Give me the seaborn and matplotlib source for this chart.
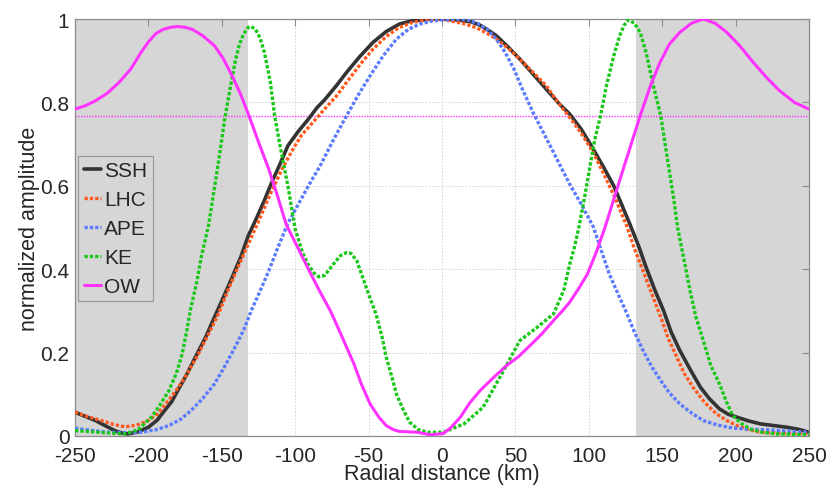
import numpy as np
import pandas as pd
import matplotlib
matplotlib.use("Agg")
import matplotlib.pyplot as plt
import seaborn as sns

# ---------------- data ----------------
ssh_x = [-250, -243, -236, -229, -223, -218, -214, -207, -200, -194, -189, -184, -180, -174, -168, -161,
         -155, -149, -143, -137, -132, -126, -121, -116, -110, -105, -98, -91, -85, -80, -72, -65, -56,
         -47, -38, -29, -20, -10, 0, 12, 20, 26, 32, 37, 45, 53, 62, 71, 80, 87, 95, 103, 110, 117, 123,
         128, 134, 139, 145, 151, 156, 162, 169, 176, 182, 189, 195, 201, 209, 217, 226, 235, 243, 250]
ssh_y = [0.057, 0.047, 0.037, 0.024, 0.013, 0.007, 0.005, 0.010, 0.021, 0.038, 0.061, 0.083, 0.109,
         0.147, 0.189, 0.237, 0.285, 0.332, 0.380, 0.430, 0.480, 0.525, 0.565, 0.608, 0.655, 0.696,
         0.730, 0.760, 0.788, 0.806, 0.840, 0.872, 0.910, 0.944, 0.970, 0.988, 0.996, 0.999, 1.000,
         0.997, 0.993, 0.985, 0.972, 0.960, 0.933, 0.904, 0.868, 0.832, 0.796, 0.772, 0.735, 0.688,
         0.645, 0.600, 0.550, 0.508, 0.455, 0.405, 0.350, 0.300, 0.250, 0.205, 0.160, 0.117, 0.090,
         0.065, 0.052, 0.045, 0.036, 0.029, 0.025, 0.021, 0.016, 0.009]

lhc_x = [-250, -241, -232, -224, -216, -208, -200, -194, -189, -182, -175, -167, -159, -152, -146, -139,
         -132, -125, -117, -109, -102, -96, -88, -80, -72, -65, -56, -47, -38, -29, -20, -10, 0, 8, 16,
         24, 31, 37, 45, 53, 62, 71, 79, 87, 95, 103, 110, 118, 126, 131, 137, 143, 149, 154, 160, 165,
         171, 179, 187, 194, 201, 208, 217, 233, 250]
lhc_y = [0.057, 0.046, 0.037, 0.028, 0.022, 0.026, 0.037, 0.052, 0.073, 0.105, 0.141, 0.190, 0.245,
         0.295, 0.348, 0.405, 0.460, 0.515, 0.580, 0.640, 0.685, 0.720, 0.752, 0.784, 0.815, 0.848,
         0.890, 0.928, 0.958, 0.980, 0.992, 0.998, 1.000, 0.994, 0.988, 0.978, 0.965, 0.952, 0.930,
         0.904, 0.872, 0.840, 0.800, 0.764, 0.725, 0.680, 0.630, 0.570, 0.502, 0.450, 0.396, 0.340,
         0.285, 0.235, 0.189, 0.150, 0.117, 0.080, 0.053, 0.037, 0.025, 0.016, 0.009, 0.007, 0.006]

ape_x = [-250, -238, -227, -216, -205, -195, -186, -178, -171, -163, -155, -148, -141, -135, -130, -124,
         -118, -112, -105, -98, -91, -83, -74, -65, -57, -49, -40, -31, -23, -15, -7, 1, 10, 17, 24, 31,
         37, 43, 49, 55, 62, 69, 76, 81, 87, 95, 103, 108, 114, 120, 126, 131, 137, 143, 149, 155, 162,
         170, 178, 188, 198, 210, 221, 235, 250]
ape_y = [0.019, 0.013, 0.009, 0.008, 0.009, 0.015, 0.025, 0.040, 0.061, 0.090, 0.125, 0.167, 0.213,
         0.255, 0.300, 0.347, 0.396, 0.450, 0.510, 0.555, 0.600, 0.648, 0.710, 0.768, 0.818, 0.864,
         0.912, 0.952, 0.975, 0.988, 0.995, 0.998, 1.000, 0.998, 0.990, 0.975, 0.952, 0.920, 0.880,
         0.830, 0.776, 0.728, 0.680, 0.645, 0.604, 0.555, 0.502, 0.450, 0.388, 0.340, 0.293, 0.250,
         0.205, 0.165, 0.133, 0.103, 0.077, 0.055, 0.037, 0.026, 0.019, 0.016, 0.015, 0.012, 0.009]

ke_x = [-250, -230, -216, -207, -198, -192, -186, -181, -177, -174, -171, -167, -164, -159, -153, -148,
        -144, -141, -138, -135, -132, -130, -127, -124, -121, -117, -114, -110, -105, -100, -95, -91,
        -87, -84, -80, -74, -69, -65, -62, -58, -54, -50, -45, -41, -38, -34, -31, -26, -22, -16, -10,
        1, 15, 28, 42, 53, 65, 76, 83, 87, 90, 93, 97, 101, 104, 108, 112, 117, 121, 124, 127, 131,
        135, 139, 144, 149, 152, 155, 158, 160.5, 165, 169, 173, 178, 183, 189, 194, 198, 204, 210,
        218, 228, 250]
ke_y = [0.013, 0.008, 0.005, 0.015, 0.045, 0.075, 0.109, 0.150, 0.197, 0.250, 0.309, 0.370, 0.429,
        0.506, 0.640, 0.760, 0.840, 0.896, 0.940, 0.965, 0.980, 0.982, 0.975, 0.955, 0.920, 0.850,
        0.768, 0.690, 0.600, 0.496, 0.440, 0.410, 0.390, 0.382, 0.385, 0.412, 0.433, 0.440, 0.438,
        0.420, 0.380, 0.340, 0.293, 0.240, 0.189, 0.140, 0.100, 0.060, 0.033, 0.015, 0.009, 0.009,
        0.029, 0.069, 0.157, 0.229, 0.261, 0.293, 0.350, 0.412, 0.450, 0.496, 0.570, 0.650, 0.710,
        0.768, 0.840, 0.912, 0.960, 0.985, 0.998, 0.990, 0.968, 0.920, 0.840, 0.768, 0.700, 0.632,
        0.565, 0.500, 0.420, 0.348, 0.285, 0.229, 0.170, 0.125, 0.080, 0.049, 0.030, 0.017, 0.009,
        0.005, 0.003]

ow_x = [-250, -243, -236, -228, -220, -212, -205, -200, -195, -190, -185, -180, -175, -170, -163, -155,
        -149, -143, -137, -131.5, -125, -118, -112, -106, -98, -91, -83, -76, -70, -65, -60, -55, -49,
        -43, -38, -33, -29, -17, -8, 1, 6, 12.5, 19, 26, 35, 44, 52, 60, 68, 76, 82, 87, 93, 99, 105,
        111, 123, 135, 142, 148.5, 155, 162, 170, 178, 186, 194, 203, 212, 221, 230, 240, 250]
ow_y = [0.784, 0.792, 0.804, 0.822, 0.848, 0.880, 0.920, 0.945, 0.965, 0.975, 0.980, 0.982, 0.980,
        0.975, 0.960, 0.936, 0.905, 0.864, 0.818, 0.768, 0.705, 0.640, 0.575, 0.506, 0.450, 0.400,
        0.345, 0.300, 0.253, 0.213, 0.173, 0.125, 0.077, 0.045, 0.025, 0.015, 0.011, 0.009, 0.003,
        0.006, 0.020, 0.045, 0.080, 0.109, 0.140, 0.169, 0.190, 0.217, 0.245, 0.277, 0.300, 0.321,
        0.353, 0.388, 0.440, 0.500, 0.635, 0.768, 0.840, 0.896, 0.940, 0.968, 0.990, 1.000, 0.990,
        0.968, 0.935, 0.896, 0.860, 0.828, 0.800, 0.784]

threshold = 0.767
shade_left = (-250, -132)
shade_right = (132, 250)

x_ticks = [-250, -200, -150, -100, -50, 0, 50, 100, 150, 200, 250]
y_ticks = [0, 0.2, 0.4, 0.6, 0.8, 1.0]
y_tick_labels = ["0", "0.2", "0.4", "0.6", "0.8", "1"]

# ---------------- style ----------------
sns.set_style("white")
plt.rcParams["font.family"] = ["Liberation Sans", "DejaVu Sans"]

fig = plt.figure(figsize=(8.29, 4.89), dpi=100)
ax = fig.add_axes([75 / 829, 1 - 437 / 489, 734 / 829, 417 / 489])

ax.axvspan(*shade_left, color="#d6d6d6", zorder=0.1, lw=0)
ax.axvspan(*shade_right, color="#d6d6d6", zorder=0.1, lw=0)

dot = (0, (1.0, 0.6))
series = [
    ("SSH", ssh_x, ssh_y, "#333333", "-", 2.6),
    ("LHC", lhc_x, lhc_y, "#ff5a1f", dot, 2.4),
    ("APE", ape_x, ape_y, "#5b7bff", dot, 2.4),
    ("KE", ke_x, ke_y, "#18c818", dot, 2.4),
    ("OW", ow_x, ow_y, "#ff33ff", "-", 2.2),
]
for name, xs, ys, col, ls, lw in series:
    df = pd.DataFrame({"x": xs, "y": ys})
    sns.lineplot(data=df, x="x", y="y", ax=ax, color=col, linestyle=ls, lw=lw,
                 label=name, sort=False, estimator=None, zorder=3)

ax.axhline(threshold, color="#ff33ff", lw=1.0, linestyle=(0, (1, 1)), zorder=2)

ax.set_xlim(-250, 250)
ax.set_ylim(0, 1)
ax.set_xticks(x_ticks)
ax.set_xticklabels([str(v) for v in x_ticks])
ax.set_yticks(y_ticks)
ax.set_yticklabels(y_tick_labels)
ax.tick_params(direction="in", top=True, right=True, labelsize=15, length=5,
               color="#8c8c8c", width=0.8)
ax.tick_params(axis="x", pad=7)
ax.tick_params(axis="y", pad=4)
ax.set_axisbelow(True)
ax.grid(True, color="#cfcfcf", linestyle=(0, (2, 2)), lw=0.6)
for s in ax.spines.values():
    s.set_color("#8c8c8c")
    s.set_linewidth(0.9)

ax.set_xlabel("Radial distance (km)", fontsize=15.5, labelpad=-1)
ax.set_ylabel("normalized amplitude", fontsize=15.5, labelpad=0)

leg = ax.legend(loc="upper left", bbox_to_anchor=(0.0045, 0.672), borderaxespad=0,
                fontsize=15, handlelength=0.85, handletextpad=0.15, labelspacing=0.48,
                borderpad=0.25, frameon=True, fancybox=False)
leg.get_frame().set_facecolor("none")
leg.get_frame().set_edgecolor("#888888")
leg.get_frame().set_linewidth(0.8)

fig.savefig("out.png", dpi=100)
